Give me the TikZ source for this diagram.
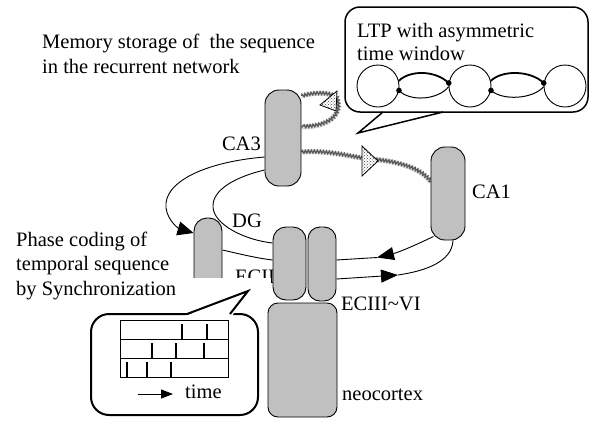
\documentclass[tikz,border=0pt]{standalone}
\usepackage{fontspec}
\setmainfont{Liberation Serif}
\usetikzlibrary{arrows.meta,decorations.pathmorphing,patterns,calc}
\pgfdeclarelayer{background}
\pgfsetlayers{background,main}
\definecolor{areagray}{RGB}{192,192,192}
\begin{document}
\begin{tikzpicture}[x=1pt,y=-1pt,
  lbl/.style={font=\fontsize{20.5}{24}\selectfont, inner sep=0pt},
  area/.style={draw, fill=areagray, line width=0.9pt, inner sep=0pt},
  conn/.style={line width=0.9pt},
  bigtip/.style={-{Triangle[length=16pt,width=14pt]}},
  midtip/.style={-{Triangle[length=17pt,width=13pt]}},
  wavy/.style={line width=5pt, draw=gray!30, postaction={draw=black!65, line width=1.3pt, decorate, decoration={snake, amplitude=1.4pt, segment length=3pt}}},
  hatchtri/.style={draw, line width=0.8pt, preaction={fill=white}, pattern=crosshatch dots, pattern color=black!75},
  neuron/.style={circle, draw, line width=0.9pt, minimum size=42pt, inner sep=0pt},
  syn/.style={line width=1.8pt},
  synweak/.style={line width=1pt},
]
\useasboundingbox (0,0) rectangle (592,421);

% hippocampal areas
\node[area, minimum width=36pt, minimum height=96pt, rounded corners=14pt] (ca3) at (283,138) {};
\node[area, minimum width=34pt, minimum height=93pt, rounded corners=14pt] (ca1) at (448,193.5) {};
\node[area, minimum width=28pt, minimum height=90pt, rounded corners=13pt] (dg) at (208,263) {};

\node[lbl, anchor=base east] (ca3l) at (261,150) {CA3};
\node[lbl, anchor=base west] (ca1l) at (472,198) {CA1};
\node[lbl, anchor=base west] (dgl) at (232,227) {DG};
\node[lbl, anchor=base west] (ec2l) at (235,283) {ECII};

% occluding white area
\fill[white] (150,278) rectangle (271,318);

\node[area, minimum width=33pt, minimum height=73pt, rounded corners=13pt] (ec2) at (289.5,263.5) {};
\node[area, minimum width=28pt, minimum height=74pt, rounded corners=12pt] (ec3) at (322,264) {};
\node[area, minimum width=69pt, minimum height=114pt, rounded corners=10pt] (neo) at (302.5,360) {};

\node[lbl, anchor=base west] (ec3l) at (341,310) {ECIII\textasciitilde VI};
\node[lbl, anchor=base west] (neol) at (342,400) {neocortex};

% texts
\node[lbl, anchor=base west] (mem1) at (42,48) {Memory storage of\ \ the sequence};
\node[lbl, anchor=base west] (mem2) at (42,73) {in the recurrent network};
\node[lbl, anchor=base west] (ph1) at (16,246) {Phase coding of};
\node[lbl, anchor=base west] (ph2) at (16,270.5) {temporal sequence};
\node[lbl, anchor=base west] (ph3) at (16,295) {by Synchronization};

% connectors
\coordinate (a1) at (377,257.5);
\coordinate (a2) at (398,275);
\begin{pgfonlayer}{background}
\draw[conn, bigtip] ([yshift=-19pt]ca3.west) .. controls (205,162) and (163,182) .. (166,208)
   .. controls (168,222) and (180,229) .. ([yshift=30pt]dg.west);
\draw[conn] ([yshift=-32pt]ca3.west) .. controls (235,177) and (212,190) .. (213,207)
   .. controls (214,225) and (245,240) .. ([yshift=20.5pt]ec2.west);
\draw[conn] ([yshift=13pt]dg.east) .. controls (240,254) and (256,258) .. ([yshift=3.5pt]ec2.west);
\draw[conn, midtip] ([xshift=3pt,yshift=4pt]ca1.south west) .. controls (420,243) and (400,252) .. (a1);
\draw[conn] (a1) -- ([yshift=4pt]ec3.east);
\draw[conn, midtip] ([yshift=-15pt]ec3.east) -- (a2);
\draw[conn] (a2) .. controls (425,271) and (452,262) .. ([xshift=5pt]ca1.south);
\draw[wavy] ([yshift=-14pt]ca3.east) .. controls (330,150) and (350,157) .. (370,159)
   .. controls (395,161) and (420,167) .. ([yshift=11.5pt]ca1.west);
\draw[wavy] ([yshift=42pt]ca3.east) .. controls (315,92) and (330,92) .. (336,98)
   .. controls (342,110) and (335,127) .. ([yshift=11pt]ca3.east);
\end{pgfonlayer}
\draw[hatchtri] (362,146) -- (378,161) -- (362,176) -- cycle;
\draw[hatchtri] (337,91) -- (336,111) -- (320,105) -- cycle;

% upper callout
\draw[line width=1.5pt, fill=white, rounded corners=15pt] (345,7) rectangle (588,112);
\fill[white] (381,114) -- (358,133) -- (445,114) -- cycle;
\draw[line width=1.5pt] (383,112) -- (358,133) -- (443,112);
\node[lbl, anchor=base west] (ltp1) at (357,37) {LTP with asymmetric};
\node[lbl, anchor=base west] (ltp2) at (357,60) {time window};
\node[neuron] (c1) at (378,86) {};
\node[neuron] (c2) at (470,86) {};
\node[neuron] (c3) at (565,86) {};
\draw[syn] (c1.14) .. controls (410,70) and (435,70) .. (c2.172);
\draw[synweak] (c1.-12) .. controls (410,102) and (438,100) .. (c2.182);
\fill (c2.172) circle (2.8pt);
\fill (c1.-12) circle (2.8pt);
\draw[syn] (c2.14) .. controls (502,70) and (530,70) .. (c3.172);
\draw[synweak] (c2.-12) .. controls (503,101) and (533,99) .. (c3.182);
\fill (c3.172) circle (2.8pt);
\fill (c2.-12) circle (2.8pt);

% lower callout
\draw[line width=2pt, fill=white, rounded corners=18pt] (91,314) rectangle (258,415);
\fill[white] (185,316) -- (248,291) -- (232,316) -- cycle;
\draw[line width=2pt] (187,314) -- (248,291) -- (230,314);
\draw[line width=1pt] (120,320) rectangle (228,377);
\draw[line width=1pt] (120,339) -- (228,339);
\draw[line width=1pt] (120,358) -- (228,358);
\foreach \x in {182,207} \draw[line width=1.8pt] (\x,324) -- (\x,339);
\foreach \x in {152,176,204} \draw[line width=1.8pt] (\x,343) -- (\x,358);
\foreach \x in {127,147,171} \draw[line width=1.8pt] (\x,362) -- (\x,378);
\coordinate (ta) at (138,394);
\coordinate (tb) at (173,394);
\draw[line width=1pt, -{Triangle[length=12pt,width=9pt]}] (ta) -- (tb);
\node[lbl, anchor=base west] (time) at (185,398) {time};
\end{tikzpicture}
\end{document}
